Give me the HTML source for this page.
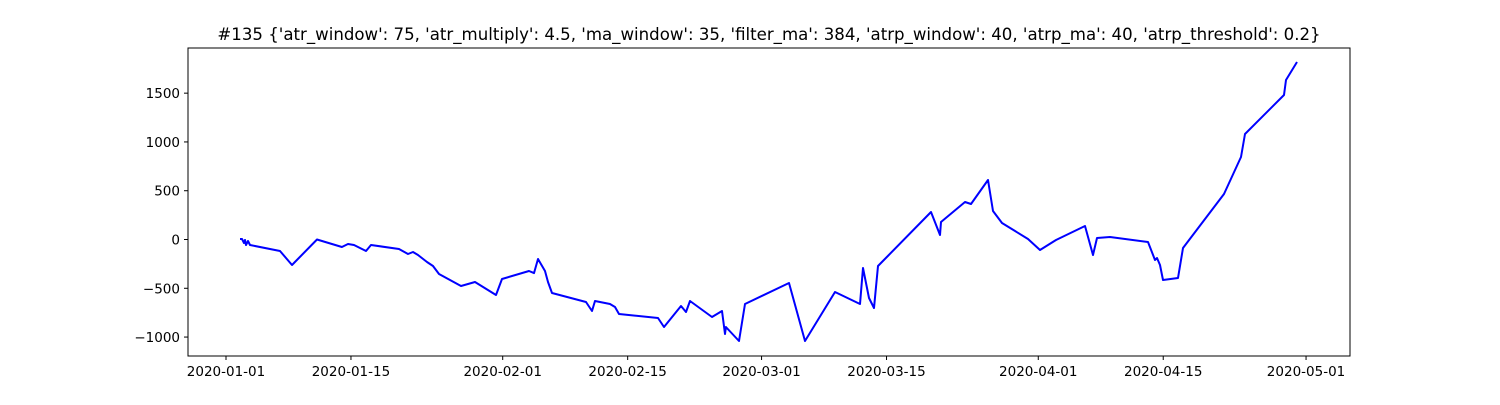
<!DOCTYPE html>
<html><head><meta charset="utf-8"><style>
body{margin:0;background:#fff;}
svg text{font-family:"DejaVu Sans","Liberation Sans",sans-serif;fill:#000;}
</style></head><body>
<svg id="chart" width="1500" height="400" xmlns="http://www.w3.org/2000/svg">
<rect width="1500" height="400" fill="#fff"/>
<text x="769" y="40" text-anchor="middle" font-size="16.6">#135 {'atr_window': 75, 'atr_multiply': 4.5, 'ma_window': 35, 'filter_ma': 384, 'atrp_window': 40, 'atrp_ma': 40, 'atrp_threshold': 0.2}</text>
<g id="ticks"></g>
<polyline id="line" fill="none" stroke="#0000ff" stroke-width="2" stroke-linejoin="round"/>
<rect x="188" y="48" width="1162" height="308" fill="none" stroke="#000" stroke-width="1"/>
</svg>
<script>
const days=[1.57,1.79,2.02,2.13,2.24,2.46,2.69,6.05,7.39,10.19,12.99,13.67,14.34,15.68,16.24,19.38,20.39,20.95,21.51,22.52,23.19,23.86,26.33,27.90,30.25,30.92,33.95,34.51,34.95,35.74,36.07,36.52,40.33,41.00,41.34,43.02,43.58,44.03,48.40,49.07,50.97,51.53,51.98,54.45,55.57,55.90,56.01,57.47,58.15,63.07,64.87,68.23,71.03,71.36,72.04,72.60,73.04,78.98,79.99,80.10,82.79,83.46,85.37,85.93,86.94,89.85,91.19,92.99,96.24,97.13,97.58,99.04,103.29,104.08,104.30,104.64,104.97,106.65,107.21,111.81,113.71,114.16,118.53,118.75,119.99];
const values=[5,5,-36,-5,-56,-15,-56,-118,-261,0,-77,-46,-56,-118,-56,-97,-149,-128,-159,-231,-272,-354,-477,-436,-569,-405,-323,-344,-200,-323,-436,-548,-641,-733,-630,-661,-692,-764,-805,-897,-682,-743,-630,-794,-733,-969,-897,-1040,-661,-446,-1040,-538,-661,-292,-600,-702,-272,282,46,179,384,364,610,292,169,5,-108,-5,138,-159,15,26,-26,-210,-190,-261,-415,-395,-87,466,846,1081,1481,1635,1819];
const yTicks=[-1000,-500,0,500,1000,1500];
const xTickLabels=["2020-01-01","2020-01-15","2020-02-01","2020-02-15","2020-03-01","2020-03-15","2020-04-01","2020-04-15","2020-05-01"];
const xTickDays=[0,14,31,45,60,74,91,105,121];
const xs=d=>226+d*8.926;
const ys=v=>239.5-v*0.09756;
const NS="http://www.w3.org/2000/svg";
const g=document.getElementById('ticks');
yTicks.forEach(v=>{
  const y=ys(v);
  const l=document.createElementNS(NS,'line');
  l.setAttribute('x1',184);l.setAttribute('x2',188);l.setAttribute('y1',y);l.setAttribute('y2',y);l.setAttribute('stroke','#000');
  
  
  g.appendChild(l);
  const t=document.createElementNS(NS,'text');
  t.setAttribute('x',180);t.setAttribute('y',y+5);t.setAttribute('text-anchor','end');t.setAttribute('font-size','13.5');
  t.textContent=String(v).replace('-','\u2212');
  
  
  g.appendChild(t);
});
xTickLabels.forEach((s,i)=>{
  const x=xs(xTickDays[i]);
  const l=document.createElementNS(NS,'line');
  l.setAttribute('x1',x);l.setAttribute('x2',x);l.setAttribute('y1',356);l.setAttribute('y2',360);l.setAttribute('stroke','#000');
  
  
  g.appendChild(l);
  const t=document.createElementNS(NS,'text');
  t.setAttribute('x',x);t.setAttribute('y',376);t.setAttribute('text-anchor','middle');t.setAttribute('font-size','13.5');
  t.textContent=s;
  
  
  g.appendChild(t);
});
document.getElementById('line').setAttribute('points',days.map((d,i)=>xs(d).toFixed(1)+','+ys(values[i]).toFixed(1)).join(' '));
</script>
</body></html>
